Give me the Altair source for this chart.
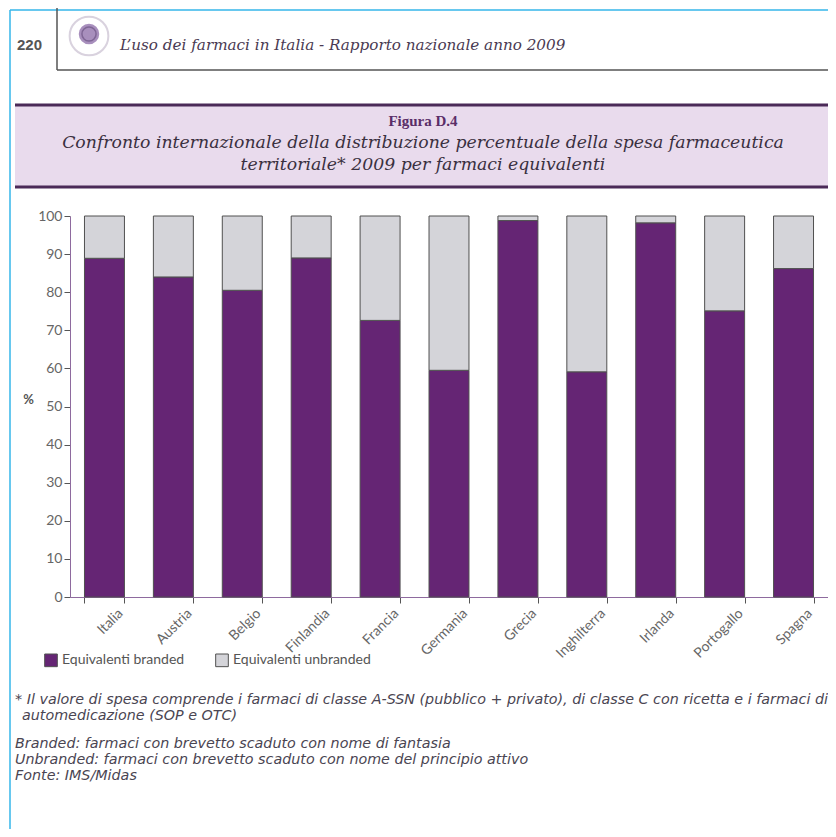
import altair as alt
import pandas as pd

# ---- data ----
countries = ["Italia", "Austria", "Belgio", "Finlandia", "Francia", "Germania",
             "Grecia", "Inghilterra", "Irlanda", "Portogallo", "Spagna"]
branded = [88.9, 84.0, 80.5, 89.0, 72.6, 59.5, 98.8, 59.1, 98.2, 75.1, 86.2]
unbranded = [11.1, 16.0, 19.5, 11.0, 27.4, 40.5, 1.2, 40.9, 1.8, 24.9, 13.8]
series = ["Equivalenti branded", "Equivalenti unbranded"]
y_ticks = [0, 10, 20, 30, 40, 50, 60, 70, 80, 90, 100]

header_page = "220"
header_text = "L\u2019uso dei farmaci in Italia - Rapporto nazionale anno 2009"
fig_label = "Figura D.4"
fig_title = ["Confronto internazionale della distribuzione percentuale della spesa farmaceutica",
             "territoriale* 2009 per farmaci equivalenti"]
notes = [
    "* Il valore di spesa comprende i farmaci di classe A-SSN (pubblico + privato), di classe C con ricetta e i farmaci di",
    "automedicazione (SOP e OTC)",
    "Branded: farmaci con brevetto scaduto con nome di fantasia",
    "Unbranded: farmaci con brevetto scaduto con nome del principio attivo",
    "Fonte: IMS/Midas",
]

rows = []
for c, b, u in zip(countries, branded, unbranded):
    rows.append({"Paese": c, "Tipo": series[0], "ord": 0, "v": b})
    rows.append({"Paese": c, "Tipo": series[1], "ord": 1, "v": u})
df = pd.DataFrame(rows)
one = pd.DataFrame({"k": [0]})

PURPLE = "#652574"
GREY = "#d4d4d9"
W, H = 758, 381
AXFONT = "Lato"

bars = alt.Chart(df).mark_bar(stroke="#505050", strokeWidth=1).encode(
    x=alt.X("Paese:N", sort=countries,
            scale=alt.Scale(paddingInner=0.42, paddingOuter=0.21),
            axis=alt.Axis(title=None, labelAngle=-45, tickBand="extent",
                          labelFont=AXFONT, labelFontSize=14, labelColor="#666666",
                          labelOffset=11, labelPadding=3,
                          domainColor="#8e6a9e", tickColor="#555555", tickSize=6)),
    y=alt.Y("v:Q", stack="zero",
            scale=alt.Scale(domain=[0, 100], nice=False),
            axis=alt.Axis(values=y_ticks, title="%", titleAngle=0, titleX=-42, titleY=190,
                          titleFont=AXFONT, titleFontSize=13, titleFontWeight="bold",
                          titleColor="#555555",
                          labelFont=AXFONT, labelFontSize=14, labelColor="#666666",
                          labelPadding=2,
                          domainColor="#8e6a9e", tickColor="#555555", tickSize=6,
                          grid=False)),
    color=alt.Color("Tipo:N", scale=alt.Scale(domain=series, range=[PURPLE, GREY]),
                    legend=alt.Legend(title=None, orient="none", direction="horizontal",
                                      legendX=-26, legendY=437, symbolType="square",
                                      symbolSize=160, symbolStrokeColor="#505050",
                                      symbolStrokeWidth=1, symbolOpacity=1,
                                      labelFont=AXFONT, labelFontSize=14,
                                      labelColor="#555555", columnPadding=28,
                                      labelOffset=4)),
    order=alt.Order("ord:Q", sort="ascending"),
)


def txt(s, x, y, size, color, font, style="normal", weight="normal", align="left"):
    return alt.Chart(one).mark_text(
        text=s, fontSize=size, color=color, font=font, fontStyle=style,
        fontWeight=weight, align=align, baseline="middle"
    ).encode(x=alt.value(x), y=alt.value(y))


def rule(x1, x2, y1, y2, color, width):
    return alt.Chart(one).mark_rule(color=color, strokeWidth=width).encode(
        x=alt.value(x1), x2=alt.value(x2), y=alt.value(y1), y2=alt.value(y2))


def box(x1, x2, y1, y2, color):
    return alt.Chart(one).mark_rect(color=color).encode(
        x=alt.value(x1), x2=alt.value(x2), y=alt.value(y1), y2=alt.value(y2))


NOTE_FONT = "DejaVu Sans"
NOTE_SIZE = 14.3
NOTE_COL = "#4a4552"
TITLE_SIZE = 17.3

deco = [
    # page border (cyan)
    rule(-60, -60, -206, 613, "#35b6ea", 1.5),
    rule(-60, W, -206, -206, "#35b6ea", 1.5),
    # header
    rule(-13, -13, -208, -146, "#555555", 1.5),
    rule(-13, W, -146, -146, "#555555", 1.5),
    txt(header_page, -53, -171, 15, "#555555", "Liberation Sans", weight="bold"),
    alt.Chart(one).mark_point(shape="circle", filled=False, size=1500,
                              stroke="#c9bfd1", strokeWidth=2).encode(
        x=alt.value(19), y=alt.value(-180)),
    alt.Chart(one).mark_point(shape="circle", filled=True, size=420,
                              color="#a88fbd", opacity=1).encode(
        x=alt.value(19), y=alt.value(-182)),
    alt.Chart(one).mark_point(shape="circle", filled=False, size=200,
                              stroke="#6e5585", strokeWidth=1.5).encode(
        x=alt.value(19), y=alt.value(-182)),
    txt(header_text, 50, -171, 15.2, "#4a3a52", "DejaVu Serif", style="italic"),
    # figure title box
    box(-55, W, -112, -28, "#e9dbed"),
    rule(-55, W, -111, -111, "#4b2a58", 3),
    rule(-55, W, -29, -29, "#4b2a58", 3),
    txt(fig_label, 353, -95, 15, "#5a2d68", "Liberation Serif", weight="bold", align="center"),
    txt(fig_title[0], 353, -73, TITLE_SIZE, "#3a3040", "DejaVu Serif", style="italic", align="center"),
    txt(fig_title[1], 353, -51, TITLE_SIZE, "#3a3040", "DejaVu Serif", style="italic", align="center"),
    # notes
    txt(notes[0], -55, 484, NOTE_SIZE, NOTE_COL, NOTE_FONT, style="italic"),
    txt(notes[1], -48, 500, NOTE_SIZE, NOTE_COL, NOTE_FONT, style="italic"),
    txt(notes[2], -55, 528, NOTE_SIZE, NOTE_COL, NOTE_FONT, style="italic"),
    txt(notes[3], -55, 544, NOTE_SIZE, NOTE_COL, NOTE_FONT, style="italic"),
    txt(notes[4], -55, 560, NOTE_SIZE, NOTE_COL, NOTE_FONT, style="italic"),
]

chart = alt.layer(*deco, bars).properties(
    width=W, height=H,
    autosize="none",
    padding={"left": 62, "top": 208, "right": 0, "bottom": 232},
    background="#ffffff",
).configure_view(stroke=None)

chart.save("out.html", embed_options={"renderer": "svg", "actions": False})
